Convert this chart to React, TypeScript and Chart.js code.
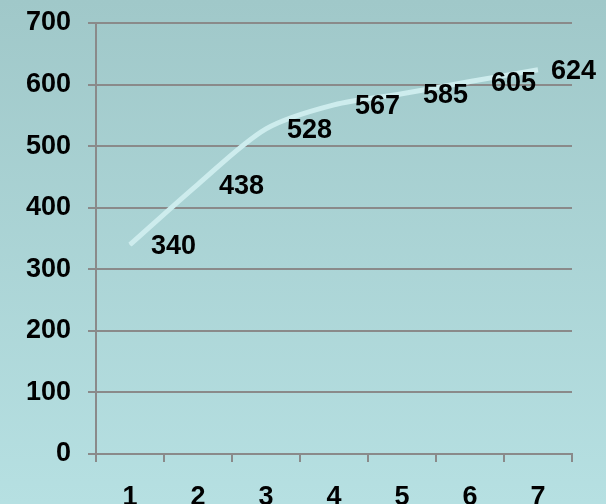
import React, { useEffect, useRef } from "react";
import { Chart, registerables } from "chart.js";

Chart.register(...registerables);

const categories = ["1", "2", "3", "4", "5", "6", "7"];
const values = [340, 438, 528, 567, 585, 605, 624];
const yMin = 0;
const yMax = 700;
const yStep = 100;

const FONT = "'Liberation Sans', Arial, sans-serif";
const GRID = "#8a8a8a";

const bgPlugin = {
  id: "bg",
  beforeDraw(chart: any) {
    const { ctx, width, height } = chart;
    const g = ctx.createLinearGradient(0, 0, 0, height);
    g.addColorStop(0, "#a0c8c9");
    g.addColorStop(1, "#b6e0e2");
    ctx.save();
    ctx.fillStyle = g;
    ctx.fillRect(0, 0, width, height);
    ctx.restore();
  },
};

const labelPlugin = {
  id: "valueLabels",
  afterDatasetsDraw(chart: any) {
    const { ctx, width } = chart;
    const meta = chart.getDatasetMeta(0);
    ctx.save();
    ctx.font = `bold 27px ${FONT}`;
    ctx.fillStyle = "#000";
    ctx.textAlign = "left";
    ctx.textBaseline = "middle";
    meta.data.forEach((pt: any, i: number) => {
      const txt = String(values[i]);
      const w = ctx.measureText(txt).width;
      const x = Math.min(pt.x + 21, width - w - 10);
      ctx.fillText(txt, x, pt.y + 2);
    });
    ctx.restore();
  },
};

export default function App() {
  const ref = useRef<HTMLCanvasElement | null>(null);
  useEffect(() => {
    if (!ref.current) return;
    const chart = new Chart(ref.current, {
      type: "line",
      data: {
        labels: categories,
        datasets: [
          {
            data: values,
            borderColor: "#cdeced",
            borderWidth: 5,
            pointRadius: 0,
            tension: 0.3,
            fill: false,
          },
          {
            data: values,
            borderColor: "rgba(255,255,255,0.95)",
            borderWidth: 2,
            borderDash: [2, 3],
            pointRadius: 0,
            tension: 0.3,
            fill: false,
          },
        ],
      },
      options: {
        animation: false,
        responsive: true,
        maintainAspectRatio: false,
        layout: { padding: { top: 23, right: 34, left: 0, bottom: 0 } },
        plugins: { legend: { display: false }, tooltip: { enabled: false } },
        scales: {
          x: {
            offset: true,
            grid: {
              display: true,
              drawOnChartArea: false,
              drawTicks: true,
              tickLength: 8,
              offset: true,
              color: GRID,
              lineWidth: 2,
            },
            border: { display: true, color: GRID, width: 2 },
            ticks: {
              color: "#000",
              font: { family: FONT, size: 27, weight: "bold" },
              padding: 19,
              maxRotation: 0,
            },
            afterFit(scale: any) {
              scale.height = 50;
              scale.paddingLeft = 0;
              scale.paddingRight = 0;
            },
          },
          y: {
            min: yMin,
            max: yMax,
            grid: {
              color: GRID,
              lineWidth: 2,
              drawTicks: true,
              tickLength: 8,
            },
            border: { display: true, color: GRID, width: 2 },
            ticks: {
              stepSize: yStep,
              color: "#000",
              font: { family: FONT, size: 27, weight: "bold" },
              padding: 17,
            },
            afterFit(scale: any) {
              scale.width = 96;
              scale.paddingTop = 0;
              scale.paddingBottom = 0;
            },
          },
        },
      },
      plugins: [bgPlugin, labelPlugin],
    });
    return () => chart.destroy();
  }, []);
  return (
    <div style={{ position: "fixed", left: 0, top: 0, width: 606, height: 504 }}>
      <canvas ref={ref} />
    </div>
  );
}
